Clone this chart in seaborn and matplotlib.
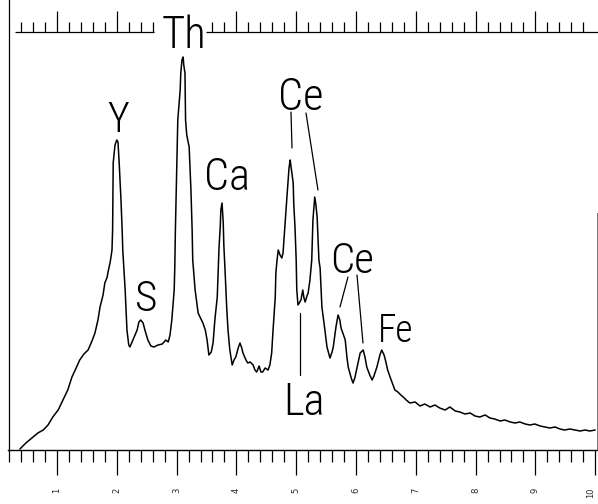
import numpy as np
import pandas as pd
import matplotlib
matplotlib.use("Agg")
import matplotlib.pyplot as plt
from matplotlib import font_manager
import seaborn as sns

# EDS spectrum: energy (keV) and relative counts
energy_kev = [
    0.38, 0.48, 0.60, 0.68, 0.77, 0.85, 0.93, 1.02, 1.10, 1.18, 1.25, 1.32, 1.38, 1.45,
    1.52, 1.585, 1.635, 1.685, 1.72, 1.77, 1.80, 1.84, 1.85, 1.89, 1.92, 1.93, 1.94, 1.97,
    2.00, 2.02, 2.04, 2.07, 2.09, 2.10, 2.14, 2.17, 2.20, 2.22, 2.27, 2.34, 2.37, 2.40,
    2.44, 2.47, 2.52, 2.57, 2.62, 2.69, 2.76, 2.82, 2.86, 2.89, 2.92, 2.96, 2.97, 2.98,
    3.01, 3.02, 3.06, 3.07, 3.09, 3.11, 3.12, 3.14, 3.15, 3.17, 3.21, 3.24, 3.26, 3.27,
    3.31, 3.36, 3.44, 3.48, 3.51, 3.54, 3.58, 3.61, 3.64, 3.68, 3.71, 3.73, 3.74, 3.76,
    3.78, 3.79, 3.81, 3.84, 3.86, 3.89, 3.93, 3.96, 3.99, 4.03, 4.06, 4.09, 4.11, 4.16,
    4.19, 4.23, 4.28, 4.31, 4.34, 4.38, 4.41, 4.44, 4.48, 4.53, 4.56, 4.59, 4.61, 4.65,
    4.66, 4.68, 4.70, 4.73, 4.76, 4.78, 4.81, 4.85, 4.88, 4.90, 4.91, 4.95, 4.96, 4.98,
    5.00, 5.01, 5.03, 5.06, 5.08, 5.11, 5.13, 5.15, 5.18, 5.20, 5.23, 5.26, 5.28, 5.30,
    5.31, 5.33, 5.35, 5.38, 5.40, 5.43, 5.48, 5.515, 5.565, 5.60, 5.62, 5.665, 5.70, 5.73,
    5.75, 5.78, 5.82, 5.85, 5.87, 5.92, 5.95, 5.98, 6.02, 6.07, 6.12, 6.15, 6.18, 6.23,
    6.27, 6.30, 6.35, 6.40, 6.43, 6.47, 6.50, 6.53, 6.57, 6.62, 6.65, 6.70, 6.75, 6.79,
    6.84, 6.90, 6.99, 7.07, 7.15, 7.24, 7.32, 7.40, 7.49, 7.57, 7.66, 7.74, 7.82, 7.91,
    7.99, 8.07, 8.16, 8.24, 8.32, 8.41, 8.49, 8.58, 8.66, 8.74, 8.83, 8.91, 8.99, 9.08,
    9.16, 9.24, 9.33, 9.41, 9.49, 9.58, 9.66, 9.75, 9.83, 9.91, 10.0,
]
counts = [
    1, 7, 13, 17, 20, 25, 33, 40, 50, 60, 73, 82, 90, 96,
    100, 109, 117, 130, 143, 155, 167, 173, 177, 188, 200, 220, 287, 305,
    310, 308, 287, 250, 220, 200, 160, 120, 105, 103, 110, 120, 128, 130,
    127, 120, 110, 104, 103, 105, 106, 110, 108, 115, 130, 160, 183, 220,
    303, 330, 360, 377, 390, 393, 385, 377, 330, 315, 303, 260, 220, 190,
    160, 137, 127, 120, 110, 95, 98, 107, 130, 153, 203, 223, 240, 247,
    227, 205, 180, 140, 120, 100, 85, 90, 93, 102, 107, 102, 97, 90,
    87, 88, 85, 80, 78, 84, 78, 78, 82, 80, 85, 97, 117, 153,
    177, 190, 200, 195, 192, 197, 223, 257, 282, 290, 285, 267, 245, 223,
    190, 160, 145, 148, 150, 160, 152, 148, 154, 157, 170, 190, 230, 245,
    253, 245, 233, 190, 182, 143, 120, 103, 92, 98, 103, 123, 135, 130,
    122, 117, 110, 92, 83, 72, 67, 72, 83, 97, 100, 93, 83, 75,
    70, 74, 83, 95, 100, 95, 88, 80, 73, 65, 60, 58, 55, 53,
    50, 47, 48, 44, 46, 43, 45, 42, 40, 43, 39, 38, 36, 37,
    34, 33, 35, 32, 31, 29, 30, 28, 27, 28, 26, 25, 26, 24,
    23, 22, 23, 21, 20, 21, 20, 19, 20, 19, 20,
]

# Element labels
peak_labels = ["Y", "S", "Th", "Ca", "Ce", "Ce", "La", "Fe"]
label_energy = [2.02, 2.49, 3.12, 3.84, 5.07, 5.94, 5.13, 6.66]
label_height = [318, 139, 402, 260, 340, 177, 35, 108]
label_size = [30, 31, 32, 32, 32, 31, 32, 27]

# Leader lines from labels to peaks
leader_e_start = [4.913, 5.164, 5.866, 6.017, 5.06]
leader_c_start = [338, 337, 173, 175, 137]
leader_e_end = [4.930, 5.364, 5.732, 6.117, 5.06]
leader_c_end = [302, 260, 143, 107, 75]

# Energy scale
major_ticks = [1, 2, 3, 4, 5, 6, 7, 8, 9, 10]
tick_labels = ["1", "2", "3", "4", "5", "6", "7", "8", "9", "10"]
top_major_ticks = [1, 2, 4, 5, 6, 7, 8, 9]

LIGHT = (300, "light", 200, "extra-light")


def pick_label_font():
    """Prefer a narrow, light sans for the element labels."""
    fonts = font_manager.fontManager.ttflist
    names = {f.name for f in fonts}
    for fam in ["Liberation Sans Narrow", "Roboto Condensed", "Open Sans Condensed",
                "Arial Narrow", "Noto Sans Display"]:
        if fam in names:
            weight = "normal"
            for f in fonts:
                if f.name == fam and f.weight in LIGHT and f.style == "normal":
                    weight = f.weight
                    break
            return fam, weight, "normal"
    for f in fonts:
        if f.name == "DejaVu Sans" and str(f.stretch) in ("condensed", "semi-condensed", "600"):
            return "DejaVu Sans", "normal", "condensed"
    for fam in ["Roboto", "Open Sans", "Lato", "Inter", "Noto Sans"]:
        for f in fonts:
            if f.name == fam and f.weight in LIGHT:
                return fam, f.weight, "normal"
    return "DejaVu Sans", "normal", "normal"


sns.set_theme(style="white")
label_family, label_weight, label_stretch = pick_label_font()
plt.rcParams["font.family"] = [label_family, "DejaVu Sans"]

fig = plt.figure(figsize=(5.98, 5.04), dpi=100)
ax = fig.add_axes([0, 0, 1, 1])

df = pd.DataFrame({"energy": energy_kev, "counts": counts})
sns.lineplot(data=df, x="energy", y="counts", ax=ax, color="black",
             linewidth=1.1, sort=False, estimator=None)

ax.set_xlim(0.047, 10.047)
ax.set_ylim(-54, 450)
ax.set_xlabel("")
ax.set_ylabel("")
ax.set_facecolor("white")

# Frame: baseline ruler, left edge, short right edge
for side in ["left", "bottom", "right"]:
    ax.spines[side].set_visible(True)
    ax.spines[side].set_color("black")
ax.spines["top"].set_visible(False)
ax.spines["bottom"].set_position(("data", 0))
ax.spines["bottom"].set_bounds(0.18, 10.03)
ax.spines["bottom"].set_linewidth(1.0)
ax.spines["left"].set_position(("data", 0.19))
ax.spines["left"].set_bounds(0, 450)
ax.spines["left"].set_linewidth(0.9)
ax.spines["right"].set_position(("data", 10.03))
ax.spines["right"].set_bounds(0, 237)
ax.spines["right"].set_color("#777777")
ax.spines["right"].set_linewidth(0.7)

ax.tick_params(axis="y", left=False, right=False, labelleft=False, labelright=False)
minor_bottom = [round(v, 1) for v in np.arange(0.2, 10.01, 0.2) if abs(v - round(v)) > 1e-6]
ax.set_xticks(major_ticks)
ax.set_xticklabels(tick_labels, rotation=90, fontsize=6, family="DejaVu Sans")
ax.get_xticklabels()[-1].set_horizontalalignment("right")
ax.set_xticks(minor_bottom, minor=True)
ax.tick_params(axis="x", which="major", bottom=True, length=18, width=0.9,
               direction="out", pad=9, color="black")
ax.tick_params(axis="x", which="minor", bottom=True, length=8.6, width=0.9,
               direction="out", color="black")

# Upper ruler, interrupted by the Th label
ruler_c = 418
ax.hlines([ruler_c, ruler_c], [0.30, 3.50], [2.63, 10.05], color="black", linewidth=0.9)
sec = ax.secondary_xaxis((ruler_c + 54) / 504)
for s in sec.spines.values():
    s.set_visible(False)
top_minor = [round(v, 1) for v in np.arange(0.4, 9.81, 0.2)
             if abs(v - round(v)) > 1e-6 and not (2.7 < v < 3.5)]
sec.set_xticks(top_major_ticks)
sec.set_xticks(top_minor, minor=True)
sec.tick_params(axis="x", which="major", top=True, length=15, width=0.9,
                direction="out", labeltop=False, color="black")
sec.tick_params(axis="x", which="minor", top=True, length=7.2, width=0.9,
                direction="out", labeltop=False, color="black")

for txt, e, c, fs in zip(peak_labels, label_energy, label_height, label_size):
    ax.text(e, c, txt, ha="center", va="baseline", fontsize=fs, color="black",
            family=[label_family, "DejaVu Sans"], fontweight=label_weight,
            fontstretch=label_stretch)

for e0, c0, e1, c1 in zip(leader_e_start, leader_c_start, leader_e_end, leader_c_end):
    ax.plot([e0, e1], [c0, c1], color="black", linewidth=0.9)

fig.savefig("out.png", dpi=100, facecolor="white")
